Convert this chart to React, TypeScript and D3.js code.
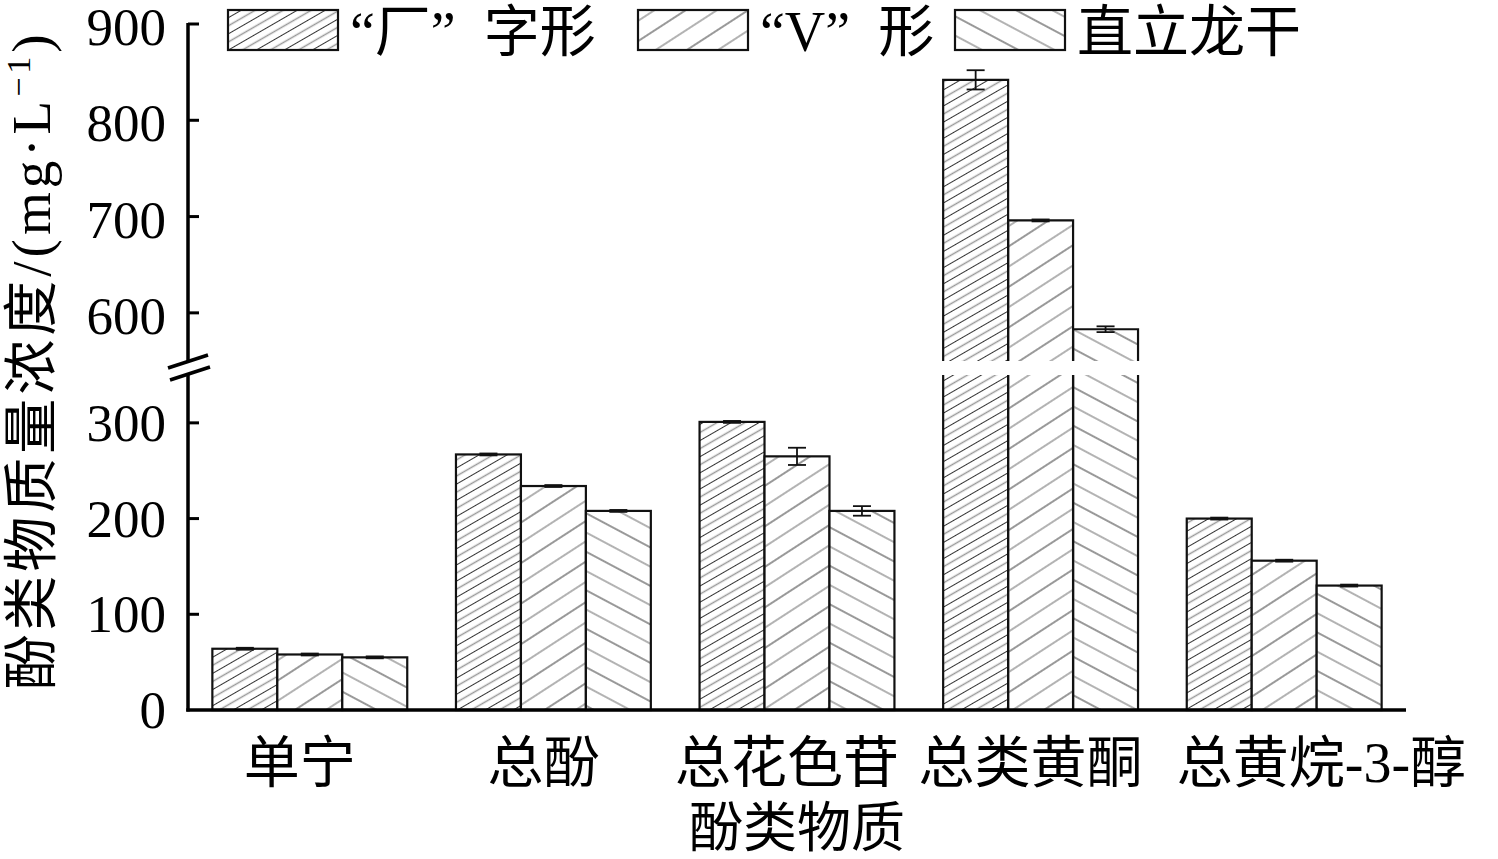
import React from "react";
import * as d3 from "d3";

const categories = ["单宁", "总酚", "总花色苷", "总类黄酮", "总黄烷-3-醇"];
const seriesNames = ["“厂”\u2002字形", "“V”\u2002形", "直立龙干"];
const valuesA = [64, 267, 301, 842, 200];
const valuesB = [58, 234, 265, 696, 156];
const valuesC = [55, 208, 208, 583, 130];
const errA = [1, 1, 1, 10, 1];
const errB = [1, 1, 9, 1, 1];
const errC = [1, 1, 5, 3, 1];
const lowTicks = [0, 100, 200, 300];
const highTicks = [600, 700, 800, 900];
const lowDomain = [0, 350];
const highDomain = [550, 900];

const W = 1498;
const H = 859;
const FONT = "'Liberation Serif', 'Times New Roman', 'Noto Sans CJK SC', serif";

export default function App() {
  const x0 = d3.scaleBand<string>().domain(categories).range([188, 1406]).paddingInner(0.2).paddingOuter(0.1);
  const x1 = d3.scaleBand<number>().domain([0, 1, 2]).range([0, x0.bandwidth()]).padding(0);
  const yLow = d3.scaleLinear().domain(lowDomain).range([710, 375]);
  const yHigh = d3.scaleLinear().domain(highDomain).range([361, 24]);
  const series = [valuesA, valuesB, valuesC];
  const errs = [errA, errB, errC];
  const pats = ["pA", "pB", "pC"];
  const yOf = (v: number) => (v <= lowDomain[1] ? yLow(v) : yHigh(v));

  const bars: React.ReactNode[] = [];
  categories.forEach((c, ci) => {
    series.forEach((vals, si) => {
      const v = vals[ci];
      const bx = (x0(c) as number) + (x1(si) as number);
      const bw = x1.bandwidth();
      const key = `${ci}-${si}`;
      if (v <= lowDomain[1]) {
        const top = yLow(v);
        bars.push(
          <g key={key}>
            <rect x={bx} y={top} width={bw} height={yLow(0) - top} fill="#fff" />
            <rect x={bx} y={top} width={bw} height={yLow(0) - top} fill={`url(#${pats[si]})`} stroke="#111" strokeWidth={2.2} />
          </g>
        );
      } else {
        const lowTop = yLow(lowDomain[1]);
        const highTop = yHigh(v);
        const highBot = yHigh(highDomain[0]);
        bars.push(
          <g key={key}>
            <rect x={bx} y={lowTop} width={bw} height={yLow(0) - lowTop} fill={`url(#${pats[si]})`} />
            <path d={`M${bx},${yLow(0)}V${lowTop}M${bx + bw},${yLow(0)}V${lowTop}`} stroke="#111" strokeWidth={2.2} fill="none" />
            <rect x={bx} y={highTop} width={bw} height={highBot - highTop} fill={`url(#${pats[si]})`} />
            <path d={`M${bx},${highBot}V${highTop}H${bx + bw}V${highBot}`} stroke="#111" strokeWidth={2.2} fill="none" />
          </g>
        );
      }
      const e = errs[si][ci];
      const cx = bx + bw / 2;
      const yt = yOf(v + e);
      const yb = yOf(v - e);
      bars.push(
        <g key={key + "e"} stroke="#111" strokeWidth={1.8}>
          <line x1={cx} x2={cx} y1={yt} y2={yb} />
          <line x1={cx - 9} x2={cx + 9} y1={yt} y2={yt} />
          <line x1={cx - 9} x2={cx + 9} y1={yb} y2={yb} />
        </g>
      );
    });
  });

  const legendX = [228, 638, 955];
  const legendW = 110;
  const lastCat = categories[categories.length - 1];

  return (
    <svg width={W} height={H} style={{ position: "absolute", left: 0, top: 0, background: "#fff" }} fontFamily={FONT}>
      <defs>
        <pattern id="pA" patternUnits="userSpaceOnUse" width={40} height={14} patternTransform="rotate(-30)">
          <line x1={0} x2={40} y1={3.5} y2={3.5} stroke="#333" strokeWidth={1.1} />
          <line x1={0} x2={40} y1={10.5} y2={10.5} stroke="#999" strokeWidth={1.4} />
        </pattern>
        <pattern id="pB" patternUnits="userSpaceOnUse" width={60} height={34} patternTransform="rotate(-33)">
          <line x1={0} x2={60} y1={8} y2={8} stroke="#333" strokeWidth={1} />
          <line x1={0} x2={60} y1={25} y2={25} stroke="#999" strokeWidth={1.3} />
        </pattern>
        <pattern id="pC" patternUnits="userSpaceOnUse" width={60} height={34} patternTransform="rotate(28)">
          <line x1={0} x2={60} y1={8} y2={8} stroke="#333" strokeWidth={1} />
          <line x1={0} x2={60} y1={25} y2={25} stroke="#999" strokeWidth={1.3} />
        </pattern>
      </defs>

      {bars}

      {/* axes */}
      <g stroke="#000" strokeWidth={3.5} fill="none">
        <line x1={188} x2={188} y1={yHigh(900) - 1} y2={yHigh(highDomain[0])} />
        <line x1={188} x2={188} y1={yLow(lowDomain[1]) - 2} y2={yLow(0) + 1.5} />
        <line x1={186.25} x2={1406} y1={yLow(0)} y2={yLow(0)} />
        <line x1={168} x2={208} y1={368} y2={355} />
        <line x1={170} x2={210} y1={380} y2={367} />
      </g>
      <g stroke="#000" strokeWidth={3}>
        {highTicks.map((t) => (
          <line key={t} x1={188} x2={199} y1={yHigh(t)} y2={yHigh(t)} />
        ))}
        {lowTicks.filter((t) => t > 0).map((t) => (
          <line key={t} x1={188} x2={199} y1={yLow(t)} y2={yLow(t)} />
        ))}
      </g>
      <g fontSize={53} textAnchor="end" fill="#000">
        {highTicks.map((t) => (
          <text key={t} x={166} y={yHigh(t) + 3} dy="0.34em">{t}</text>
        ))}
        {lowTicks.map((t) => (
          <text key={t} x={166} y={yLow(t)} dy="0.34em">{t}</text>
        ))}
      </g>

      {/* category labels */}
      <g fontSize={56} fill="#000">
        {categories.map((c) =>
          c === lastCat ? (
            <text key={c} x={(x0(c) as number) - 10} y={782} textAnchor="start">{c}</text>
          ) : (
            <text key={c} x={(x0(c) as number) + x0.bandwidth() / 2 - 10} y={782} textAnchor="middle">{c}</text>
          )
        )}
      </g>

      {/* axis titles */}
      <text x={797} y={847} fontSize={54} textAnchor="middle">酚类物质</text>
      <text transform="translate(50,360) rotate(-90)" fontSize={55} textAnchor="middle" letterSpacing={4}>
        酚类物质量浓度/(mg·L<tspan dy={-20} fontSize={34}>−1</tspan><tspan dy={20}>)</tspan>
      </text>

      {/* legend */}
      {seriesNames.map((n, i) => (
        <g key={n}>
          <rect x={legendX[i]} y={10} width={legendW} height={40} fill="#fff" />
          <rect x={legendX[i]} y={10} width={legendW} height={40} fill={`url(#${pats[i]})`} stroke="#111" strokeWidth={2.2} />
          <text x={legendX[i] + legendW + 12} y={51} fontSize={56}>{n}</text>
        </g>
      ))}
    </svg>
  );
}
